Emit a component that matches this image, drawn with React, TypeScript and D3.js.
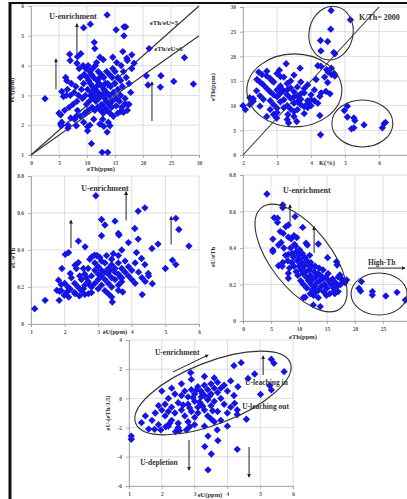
import React, { useEffect, useRef } from 'react';
import * as d3 from 'd3';

// ---- data ----

// Panel 1: eU(ppm) vs eTh(ppm)
const p1Points: [number, number][] = [
  [13.6, 5.7], [10.6, 5.39], [9.4, 5.27], [16.6, 5.3], [16.9, 5.3], [15.2, 5.2], [16.6, 5.0],
  [11.3, 4.78], [11.4, 4.57], [6.9, 4.38], [8.3, 4.3], [7.0, 4.17], [8.2, 4.08], [12.3, 4.28],
  [14.6, 4.28], [16.4, 4.47], [17.1, 4.25], [17.2, 4.17], [18.0, 4.36], [18.4, 4.08], [21.1, 4.57],
  [27.4, 4.27], [20.6, 3.66], [23.2, 3.66], [20.9, 3.35], [23.1, 3.28], [25.5, 3.47], [29.0, 3.38],
  [2.5, 2.89], [6.4, 3.49], [5.5, 3.13], [5.8, 2.96], [5.3, 2.35], [5.3, 2.05], [5.4, 1.98],
  [6.6, 1.9], [7.1, 2.24], [8.1, 1.98], [8.1, 2.3], [10.1, 1.95], [10.1, 1.81], [10.8, 1.38],
  [12.7, 1.09], [13.7, 1.09], [13.6, 1.77], [12.3, 2.04], [13.0, 1.96], [14.1, 1.98], [14.7, 2.3],
  [15.2, 2.65], [16.8, 2.72], [16.0, 2.46], [16.5, 2.43], [17.3, 2.69],
  [9.5, 3.7], [10, 3.6], [10.3, 3.5], [10.6, 3.4], [10.8, 3.7], [11, 3.3], [11.2, 3.6], [11.5, 3.2],
  [11.8, 3.5], [12, 3.1], [12.2, 3.4], [12.5, 3.0], [12.7, 3.3], [13, 3.2], [13.2, 2.9], [13.5, 3.1],
  [13.7, 3.4], [14, 3.0], [14.2, 3.3], [14.5, 2.8], [14.7, 3.1], [15, 3.4], [15.2, 2.9], [15.5, 3.2],
  [15.8, 2.8], [16, 3.0], [16.3, 3.3], [9, 3.2], [9.2, 2.9], [9.4, 3.4], [9.7, 3.0], [9.9, 2.7],
  [10.1, 3.2], [10.4, 2.8], [10.6, 3.0], [10.9, 2.6], [11.1, 2.9], [11.4, 2.5], [11.6, 2.8],
  [11.9, 2.6], [12.1, 2.9], [12.4, 2.5], [12.6, 2.7], [12.9, 2.4], [13.1, 2.6], [13.4, 2.8],
  [13.6, 2.5], [13.9, 2.7], [14.1, 2.4], [14.4, 2.6], [8.5, 3.0], [8.2, 2.8], [8, 3.3], [7.7, 3.1],
  [7.5, 2.7], [7.2, 3.4], [7, 3.0], [6.8, 2.6], [6.5, 3.2], [6.2, 3.6], [6, 2.5], [8.8, 3.6],
  [8.6, 3.9], [9.3, 4.0], [9.8, 3.9], [10.2, 4.0], [10.5, 3.8], [11, 3.9], [11.5, 4.0], [12, 3.8],
  [12.5, 3.7], [13, 3.6], [13.5, 3.8], [14, 3.7], [14.5, 3.6], [15, 3.8], [15.5, 3.6], [16, 3.5],
  [16.5, 3.8], [17, 3.6], [17.5, 3.4], [18, 3.9], [17.8, 3.1], [16.8, 2.9], [10.8, 3.1], [11.3, 3.0],
  [11.7, 3.3], [12.3, 3.6], [12.8, 3.0], [13.3, 3.4], [10.2, 2.5], [9.6, 2.4], [8.8, 2.3], [8.3, 2.5],
  [7.8, 2.2], [12.8, 2.2], [13.8, 2.1], [15.5, 2.4], [16.2, 2.6], [17.2, 2.5], [17.5, 2.7],
  [11.2, 2.2], [10.5, 2.0], [9.4, 2.1], [14.6, 3.9], [15.3, 4.1], [16.1, 4.0], [6.6, 2.0],
  [5.5, 2.1], [5.0, 2.4], [6.3, 3.0], [8.9, 4.4], [11.7, 4.1], [12.9, 4.2],
];

// Panel 2: eTh(ppm) vs K(%)
const p2Points: [number, number][] = [
  [4.59, 29.3], [5.16, 27.4], [4.58, 25.5], [4.28, 23.2], [4.49, 23.0], [4.29, 21.1], [4.67, 20.8],
  [4.7, 20.5], [5.07, 9.9], [4.98, 9.0], [5.07, 7.7], [5.26, 7.5], [5.29, 7.0], [5.19, 5.3],
  [5.26, 5.5], [5.56, 6.1], [6.1, 5.5], [6.15, 6.35], [6.19, 6.6], [4.28, 4.1],
  [2.0, 10.0], [2.07, 9.2], [2.2, 11.6], [2.3, 10.9], [2.5, 9.9], [2.46, 16.8], [2.56, 16.3],
  [2.41, 15.3], [2.7, 17.0], [2.85, 15.1], [3.1, 15.9], [3.07, 17.2], [3.27, 18.5], [3.68, 17.6],
  [4.2, 18.1], [4.29, 18.0], [4.46, 17.3], [4.6, 16.3], [4.68, 16.5], [4.15, 15.3], [4.49, 14.7],
  [4.44, 12.9], [4.56, 12.4], [4.26, 11.9], [4.0, 11.2], [3.92, 10.0], [4.1, 13.2], [4.26, 8.0],
  [3.58, 6.8], [3.34, 6.5], [2.99, 7.5], [2.7, 7.8], [2.9, 8.2], [3.32, 8.2],
  [2.6, 14.2], [2.7, 13.5], [2.8, 12.8], [2.9, 14.8], [3.0, 13.2], [3.0, 11.8], [3.1, 12.5],
  [3.1, 14.0], [3.2, 13.0], [3.2, 11.2], [3.3, 12.2], [3.3, 14.5], [3.4, 13.6], [3.4, 11.5],
  [3.5, 12.8], [3.5, 10.5], [3.6, 12.0], [3.6, 13.8], [3.7, 11.3], [3.7, 10.2], [3.8, 12.6],
  [3.8, 9.8], [3.9, 11.0], [3.9, 10.4], [4.0, 10.0], [2.8, 11.0], [2.9, 10.2], [3.0, 9.5],
  [3.1, 10.8], [3.2, 9.6], [3.3, 10.0], [3.4, 9.3], [3.5, 8.8], [3.6, 9.2], [2.5, 12.0],
  [2.6, 11.3], [2.4, 13.0], [2.5, 14.8], [2.7, 16.0], [2.8, 15.5], [3.0, 16.5], [3.2, 15.8],
  [3.4, 15.0], [3.5, 16.2], [3.7, 14.8], [3.8, 13.5], [3.9, 14.2], [4.0, 12.2], [4.1, 11.0],
  [4.2, 10.5], [4.3, 12.6], [4.4, 15.8], [4.5, 16.8], [4.6, 17.6], [4.7, 16.0], [2.3, 11.4],
  [2.2, 10.2], [3.3, 13.2], [3.5, 11.8], [3.7, 12.4], [3.1, 13.6], [2.9, 12.2], [3.6, 10.8],
  [3.9, 9.6], [3.8, 8.4], [3.3, 7.2], [3.5, 7.8], [3.0, 8.6], [2.8, 9.2],
];

// Panel 3: eU/eTh vs eU(ppm)
const p3Points: [number, number][] = [
  [1.11, 0.083], [1.42, 0.128], [1.84, 0.128], [1.85, 0.177], [1.9, 0.213], [1.92, 0.3],
  [2.02, 0.376], [2.12, 0.386], [2.41, 0.448], [2.61, 0.417], [2.93, 0.693], [3.1, 0.565],
  [3.2, 0.535], [3.1, 0.477], [3.5, 0.556], [3.6, 0.489], [3.62, 0.48], [4.19, 0.61], [4.39, 0.628],
  [4.09, 0.516], [3.9, 0.44], [4.19, 0.459], [4.78, 0.432], [4.6, 0.408], [5.0, 0.3], [5.31, 0.571],
  [5.4, 0.511], [5.7, 0.421], [5.21, 0.345], [5.31, 0.321], [4.31, 0.159], [4.61, 0.218],
  [4.49, 0.273], [4.39, 0.321], [4.29, 0.354], [4.14, 0.386], [1.99, 0.155], [2.07, 0.173],
  [2.17, 0.188], [2.31, 0.164], [2.44, 0.152], [2.56, 0.191], [2.71, 0.164], [2.76, 0.209],
  [1.77, 0.182], [2.12, 0.146], [1.82, 0.237], [2.17, 0.273], [2.31, 0.318], [2.41, 0.332],
  [2.56, 0.3], [2.89, 0.372], [2.81, 0.363], [2.98, 0.368], [3.4, 0.146], [3.42, 0.119],
  [3.3, 0.164], [3.6, 0.182], [3.73, 0.173], [3.7, 0.228], [3.65, 0.255],
  [2.3, 0.22], [2.4, 0.2], [2.5, 0.24], [2.6, 0.21], [2.6, 0.27], [2.7, 0.23], [2.7, 0.3],
  [2.8, 0.2], [2.8, 0.26], [2.9, 0.22], [2.9, 0.29], [2.9, 0.33], [3.0, 0.24], [3.0, 0.27],
  [3.0, 0.31], [3.1, 0.21], [3.1, 0.26], [3.1, 0.29], [3.2, 0.24], [3.2, 0.28], [3.2, 0.33],
  [3.3, 0.22], [3.3, 0.27], [3.3, 0.3], [3.4, 0.25], [3.4, 0.32], [3.4, 0.35], [3.5, 0.28],
  [3.5, 0.3], [3.5, 0.24], [3.6, 0.27], [3.6, 0.33], [3.7, 0.3], [3.7, 0.25], [3.8, 0.28],
  [3.8, 0.34], [3.9, 0.31], [3.9, 0.26], [4.0, 0.29], [4.0, 0.24], [4.1, 0.33], [4.1, 0.22],
  [4.2, 0.28], [4.3, 0.25], [4.4, 0.23], [4.5, 0.26], [2.2, 0.25], [2.1, 0.2], [2.0, 0.22],
  [1.9, 0.18], [2.3, 0.17], [2.5, 0.18], [2.6, 0.16], [2.8, 0.17], [3.0, 0.19], [3.2, 0.18],
  [3.4, 0.2], [3.6, 0.21], [2.75, 0.35], [3.05, 0.36], [3.25, 0.37], [3.6, 0.37], [3.7, 0.4],
  [3.45, 0.38], [2.95, 0.37], [3.1, 0.34], [3.35, 0.29], [2.65, 0.25], [2.45, 0.26], [2.35, 0.3],
];

// Panel 4: eU/eTh vs eTh(ppm)
const p4Points: [number, number][] = [
  [4.27, 0.696], [7.1, 0.636], [7.1, 0.621], [5.57, 0.566], [6.16, 0.563], [6.16, 0.54],
  [9.3, 0.572], [7.64, 0.517], [8.1, 0.526], [10.66, 0.513], [6.64, 0.49], [7.2, 0.48],
  [5.33, 0.449], [6.34, 0.416], [5.33, 0.389], [5.33, 0.38], [13.45, 0.422], [11.26, 0.426],
  [11.5, 0.416], [6.34, 0.303], [7.1, 0.321], [8.1, 0.365], [8.1, 0.261], [8.1, 0.234],
  [9.1, 0.468], [9.6, 0.457], [15.1, 0.347], [16.7, 0.325], [16.8, 0.307], [18.5, 0.225],
  [17.3, 0.252], [17.5, 0.234], [17.0, 0.161], [16.3, 0.164], [13.45, 0.128], [12.56, 0.088],
  [13.8, 0.079], [10.78, 0.128], [21.15, 0.216], [20.7, 0.179], [21.0, 0.164], [23.1, 0.161],
  [23.1, 0.142], [25.5, 0.137], [27.5, 0.157], [29.0, 0.115],
  [8.5, 0.4], [8.8, 0.37], [9, 0.35], [9.2, 0.42], [9.5, 0.38], [9.7, 0.33], [9.9, 0.36],
  [10, 0.3], [10.2, 0.34], [10.4, 0.28], [10.5, 0.32], [10.7, 0.26], [10.9, 0.3], [11, 0.35],
  [11.2, 0.27], [11.3, 0.24], [11.5, 0.31], [11.7, 0.22], [11.8, 0.28], [12, 0.25], [12.2, 0.2],
  [12.3, 0.3], [12.5, 0.23], [12.7, 0.27], [12.8, 0.19], [13, 0.24], [13.2, 0.21], [13.4, 0.26],
  [13.5, 0.17], [13.7, 0.22], [13.9, 0.25], [14, 0.19], [14.2, 0.23], [14.4, 0.16], [14.6, 0.2],
  [14.8, 0.24], [15, 0.18], [15.3, 0.22], [15.5, 0.15], [15.7, 0.2], [16, 0.23], [16.2, 0.18],
  [16.5, 0.21], [16.8, 0.19], [17, 0.24], [17.4, 0.2], [17.8, 0.22], [18.2, 0.21], [10.3, 0.22],
  [10.8, 0.2], [11.4, 0.18], [12, 0.15], [12.6, 0.14], [9.5, 0.27], [9.1, 0.3], [8.7, 0.32],
  [8.3, 0.29], [8, 0.33], [7.6, 0.36], [7.3, 0.4], [7, 0.3], [6.8, 0.43], [8.1, 0.46], [8.6, 0.45],
  [9.4, 0.41], [10.1, 0.39], [10.6, 0.37], [11.4, 0.33], [12.1, 0.32], [12.9, 0.3], [13.6, 0.29],
  [14.3, 0.28], [15.2, 0.26], [9.8, 0.25], [11.9, 0.36], [13.1, 0.16], [14.9, 0.14], [16.4, 0.15],
  [11.1, 0.13], [12.4, 0.17],
];

// Panel 5: eU-(eTh/3.5) vs eU(ppm)
const p5Points: [number, number][] = [
  [1.07, -2.58], [1.07, -2.8], [1.38, -1.66], [5.34, 2.68], [5.42, 2.4], [5.73, 1.83], [4.42, 2.45],
  [4.2, 2.24], [4.83, 1.67], [4.63, 1.37], [5.29, 0.87], [5.34, 0.58], [5.01, 0.28], [2.88, 1.76],
  [3.23, 0.35], [4.58, -1.43], [4.3, -0.79], [4.22, -0.34], [4.32, 0.8], [3.69, -2.16],
  [3.71, -2.89], [3.41, -2.58], [3.31, -3.3], [3.51, -3.81], [3.41, -4.9], [4.3, -3.49],
  [2.24, -1.7], [1.97, -2.16], [2.12, -1.94], [1.78, -2.12], [2.42, -2.28], [2.49, -2.12],
  [2.54, -2.21], [2.75, -2.16], [2.85, -1.94],
  [2.0, -0.8], [2.1, -0.4], [2.1, -1.2], [2.2, 0.0], [2.2, -0.9], [2.3, -1.5], [2.3, -0.6],
  [2.4, 0.3], [2.4, -1.0], [2.5, -0.3], [2.5, -1.7], [2.6, 0.2], [2.6, -0.8], [2.7, -1.2],
  [2.7, 0.5], [2.8, -0.4], [2.8, -1.6], [2.8, 0.1], [2.9, -0.9], [2.9, 0.6], [3.0, -0.2],
  [3.0, -1.3], [3.0, 0.3], [3.1, 0.8], [3.1, -0.6], [3.1, -1.0], [3.2, 0.1], [3.2, 0.5],
  [3.2, -0.4], [3.3, 0.9], [3.3, -0.8], [3.3, 0.2], [3.4, -0.1], [3.4, 0.6], [3.4, -1.2],
  [3.5, 1.0], [3.5, 0.3], [3.5, -0.5], [3.6, 0.7], [3.6, -0.2], [3.6, -1.6], [3.7, 0.4],
  [3.7, 1.1], [3.7, -0.9], [3.8, 0.0], [3.8, 0.7], [3.9, -0.4], [3.9, 0.9], [4.0, -1.0],
  [4.0, 0.5], [4.1, -0.6], [4.1, 1.2], [4.2, 0.2], [4.3, -1.1], [1.8, -1.0], [1.9, -0.5],
  [1.7, -1.5], [1.6, -2.1], [1.9, -1.8], [2.0, 0.5], [2.3, 0.7], [2.6, 1.0], [2.9, 1.3],
  [3.3, 1.5], [3.6, 1.4], [3.0, -1.8], [3.3, -1.9], [3.5, -1.4], [3.8, -1.5], [4.0, -1.9],
  [2.5, -2.0], [2.2, -1.9], [3.15, -0.25], [2.95, 0.05], [3.05, 0.55], [2.65, -0.45],
  [2.85, -0.65], [3.45, 0.15], [3.25, -0.55], [3.55, -0.85], [1.5, -1.2],
];

// tick labels
const p1XTicks = [0, 5, 10, 15, 20, 25, 30];
const p1YTicks = [1, 2, 3, 4, 5, 6];
const p2XTicks = [2, 3, 4, 5, 6];
const p2YTicks = [0, 5, 10, 15, 20, 25, 30];
const p3XTicks = [1, 2, 3, 4, 5, 6];
const p3YTicks = [0, 0.2, 0.4, 0.6, 0.8];
const p4XTicks = [0, 5, 10, 15, 20, 25];
const p4YTicks = [0, 0.2, 0.4, 0.6, 0.8];
const p5XTicks = [1, 2, 3, 4, 5, 6];
const p5YTicks = [-6, -4, -2, 0, 2, 4];

// reference lines, in data units
const p1Lines = [
  [[0, 1], [30, 6]],
  [[0, 1], [30, 5]],
];
const p2Lines = [[[2, 0], [6, 30]]];

const SERIF = 'Liberation Serif, Times New Roman, serif';
const BLUE = '#1414e6';

type Panel = {
  points: [number, number][];
  xDomain: [number, number];
  yDomain: [number, number];
  xRange: [number, number];
  yRange: [number, number];
  xTicks: number[];
  yTicks: number[];
  xLabel: string;
  xLabelPos: [number, number];
  yLabel: string;
  yLabelPos: [number, number];
  lines?: number[][][];
  ellipses?: { c: [number, number]; rx: number; ry: number; rot: number }[];
  arrows?: [number, number, number, number][];
  notes?: { t: string; at: [number, number]; anchor: string; size: number }[];
};

const panels: Panel[] = [
  {
    points: p1Points,
    xDomain: [0, 30], yDomain: [1, 6], xRange: [31, 199], yRange: [155, 6],
    xTicks: p1XTicks, yTicks: p1YTicks,
    xLabel: 'eTh(ppm)', xLabelPos: [101, 171], yLabel: 'eU(ppm)', yLabelPos: [14, 90],
    lines: p1Lines,
    arrows: [[8.2, 4.39, 8.2, 5.4], [4.46, 3.21, 4.46, 4.22], [21.6, 2.14, 21.6, 3.45]],
    notes: [
      { t: 'U-enrichment', at: [7.5, 5.66], anchor: 'middle', size: 8 },
      { t: 'eTh/eU=5', at: [21.2, 5.43], anchor: 'start', size: 6.8 },
      { t: 'eTh/eU=6', at: [22.0, 4.56], anchor: 'start', size: 6.8 },
    ],
  },
  {
    points: p2Points,
    xDomain: [2, 7], yDomain: [0, 30], xRange: [243, 413], yRange: [155, 7],
    xTicks: p2XTicks, yTicks: p2YTicks,
    xLabel: 'K(%)', xLabelPos: [327, 165], yLabel: 'eTh(ppm)', yLabelPos: [215, 87],
    lines: p2Lines,
    ellipses: [
      { c: [4.59, 24.7], rx: 22, ry: 27, rot: 12 },
      { c: [3.51, 13.1], rx: 47.5, ry: 36.5, rot: 0 },
      { c: [5.51, 6.4], rx: 30.5, ry: 23.5, rot: 0 },
    ],
    notes: [{ t: 'K/Th= 2000', at: [5.41, 28.0], anchor: 'start', size: 8 }],
  },
  {
    points: p3Points,
    xDomain: [1, 6], yDomain: [0, 0.8], xRange: [31, 199], yRange: [324, 176],
    xTicks: p3XTicks, yTicks: p3YTicks,
    xLabel: 'eU(ppm)', xLabelPos: [115, 334], yLabel: 'eU/eTh', yLabelPos: [15, 258],
    arrows: [[2.19, 0.41, 2.19, 0.56], [3.83, 0.56, 3.83, 0.715], [5.17, 0.43, 5.17, 0.58]],
    notes: [{ t: 'U-enrichment', at: [3.2, 0.735], anchor: 'middle', size: 8 }],
  },
  {
    points: p4Points,
    xDomain: [0, 30], yDomain: [0, 0.8], xRange: [243, 411], yRange: [321, 175],
    xTicks: p4XTicks, yTicks: p4YTicks,
    xLabel: 'eTh(ppm)', xLabelPos: [303, 339], yLabel: 'eU/eTh', yLabelPos: [215, 257],
    ellipses: [
      { c: [10.36, 0.345], rx: 64, ry: 30, rot: 52 },
      { c: [24.3, 0.148], rx: 28, ry: 21, rot: 0 },
    ],
    arrows: [[8.4, 0.537, 8.4, 0.636], [12.7, 0.373, 12.7, 0.516], [22.3, 0.29, 28.9, 0.29]],
    notes: [
      { t: 'U-enrichment', at: [11.4, 0.718], anchor: 'middle', size: 8 },
      { t: 'High-Th', at: [22.3, 0.323], anchor: 'start', size: 7.5 },
    ],
  },
  {
    points: p5Points,
    xDomain: [1, 6], yDomain: [-6, 4], xRange: [129, 293], yRange: [486, 340],
    xTicks: p5XTicks, yTicks: p5YTicks,
    xLabel: 'eU(ppm)', xLabelPos: [210, 497], yLabel: 'eU-(eTh/3.5)', yLabelPos: [110, 413],
    ellipses: [{ c: [3.56, 0.37], rx: 83, ry: 31, rot: -21.4 }],
    arrows: [
      [2.34, 1.81, 3.41, 2.97], [5.09, 1.6, 5.09, 2.9],
      [2.83, -2.85, 2.83, -4.9], [4.66, -3.33, 4.66, -5.38],
    ],
    notes: [
      { t: 'U-enrichment', at: [1.79, 3.18], anchor: 'start', size: 7.5 },
      { t: 'U-leaching in', at: [4.54, 1.12], anchor: 'start', size: 7.5 },
      { t: 'U-leaching out', at: [4.45, -0.52], anchor: 'start', size: 7.5 },
      { t: 'U-depletion', at: [1.34, -4.36], anchor: 'start', size: 7.5 },
    ],
  },
];

const App = () => {
  const svgRef = useRef<SVGSVGElement>(null);

  useEffect(() => {
    const svg = d3.select(svgRef.current);
    svg.selectAll('*').remove();

    svg
      .append('defs')
      .append('marker')
      .attr('id', 'arr')
      .attr('viewBox', '0 0 10 10')
      .attr('refX', 8)
      .attr('refY', 5)
      .attr('markerWidth', 4)
      .attr('markerHeight', 4)
      .attr('orient', 'auto')
      .append('path')
      .attr('d', 'M0,0L10,5L0,10z')
      .attr('fill', '#222');

    panels.forEach((p) => {
      const x = d3.scaleLinear().domain(p.xDomain).range(p.xRange);
      const y = d3.scaleLinear().domain(p.yDomain).range(p.yRange);
      const g = svg.append('g');
      const [x0, x1] = p.xRange;
      const [yb, yt] = p.yRange;

      // white plot panel
      g.append('rect')
        .attr('x', x0).attr('y', yt)
        .attr('width', x1 - x0).attr('height', yb - yt)
        .attr('fill', '#fff');

      // grid
      g.selectAll('.gx').data(p.xTicks).enter().append('line')
        .attr('x1', (d) => x(d)).attr('x2', (d) => x(d))
        .attr('y1', yb).attr('y2', yt)
        .attr('stroke', '#d4d4d4').attr('stroke-width', 0.8);
      g.selectAll('.gy').data(p.yTicks).enter().append('line')
        .attr('x1', x0).attr('x2', x1)
        .attr('y1', (d) => y(d)).attr('y2', (d) => y(d))
        .attr('stroke', '#d4d4d4').attr('stroke-width', 0.8);

      // axes
      const xAxis = g.append('g').attr('transform', `translate(0,${yb})`)
        .call(d3.axisBottom(x).tickValues(p.xTicks).tickSize(3).tickFormat((d) => String(d)));
      const yAxis = g.append('g').attr('transform', `translate(${x0},0)`)
        .call(d3.axisLeft(y).tickValues(p.yTicks).tickSize(3).tickFormat((d) => String(d)));
      [xAxis, yAxis].forEach((a) => {
        a.select('.domain').attr('stroke', '#9a9a9a').attr('stroke-width', 0.8);
        a.selectAll('line').attr('stroke', '#9a9a9a').attr('stroke-width', 0.8);
        a.selectAll('text')
          .attr('font-family', SERIF).attr('font-size', 5.5).attr('font-weight', 'bold')
          .attr('fill', '#555');
      });
      xAxis.selectAll('text').attr('y', 6);
      yAxis.selectAll('text').attr('x', -7);

      // axis titles
      g.append('text')
        .attr('x', p.xLabelPos[0]).attr('y', p.xLabelPos[1])
        .attr('text-anchor', 'middle')
        .attr('font-family', SERIF).attr('font-size', 6.5).attr('font-weight', 'bold')
        .attr('fill', '#333').text(p.xLabel);
      g.append('text')
        .attr('transform', `translate(${p.yLabelPos[0]},${p.yLabelPos[1]}) rotate(-90)`)
        .attr('text-anchor', 'middle')
        .attr('font-family', SERIF).attr('font-size', 6.5).attr('font-weight', 'bold')
        .attr('fill', '#333').text(p.yLabel);

      // reference lines
      (p.lines || []).forEach((l) => {
        g.append('line')
          .attr('x1', x(l[0][0])).attr('y1', y(l[0][1]))
          .attr('x2', x(l[1][0])).attr('y2', y(l[1][1]))
          .attr('stroke', '#333').attr('stroke-width', 1.1);
      });

      // points
      g.selectAll('.pt').data(p.points).enter().append('path')
        .attr('d', d3.symbol().type(d3.symbolSquare).size(27))
        .attr('transform', (d) => `translate(${x(d[0])},${y(d[1])}) rotate(45)`)
        .attr('fill', BLUE);

      // ellipses
      (p.ellipses || []).forEach((e) => {
        g.append('ellipse')
          .attr('transform', `translate(${x(e.c[0])},${y(e.c[1])}) rotate(${e.rot})`)
          .attr('rx', e.rx).attr('ry', e.ry)
          .attr('fill', 'none').attr('stroke', '#333').attr('stroke-width', 1.1);
      });

      // arrows
      (p.arrows || []).forEach((a) => {
        g.append('line')
          .attr('x1', x(a[0])).attr('y1', y(a[1]))
          .attr('x2', x(a[2])).attr('y2', y(a[3]))
          .attr('stroke', '#222').attr('stroke-width', 1)
          .attr('marker-end', 'url(#arr)');
      });

      // notes
      (p.notes || []).forEach((n) => {
        g.append('text')
          .attr('x', x(n.at[0])).attr('y', y(n.at[1]))
          .attr('dy', '0.35em')
          .attr('text-anchor', n.anchor)
          .attr('font-family', SERIF).attr('font-size', n.size).attr('font-weight', 'bold')
          .attr('fill', '#333').text(n.t);
      });
    });

    // figure frame (left and top edge)
    svg.append('line').attr('x1', 10).attr('x2', 10).attr('y1', 2).attr('y2', 499)
      .attr('stroke', '#111').attr('stroke-width', 3);
    svg.append('line').attr('x1', 9).attr('x2', 407).attr('y1', 3).attr('y2', 3)
      .attr('stroke', '#111').attr('stroke-width', 2);
  }, []);

  return (
    <svg
      ref={svgRef}
      width={407}
      height={499}
      style={{ position: 'absolute', left: 0, top: 0, background: '#fff' }}
    />
  );
};

export default App;
